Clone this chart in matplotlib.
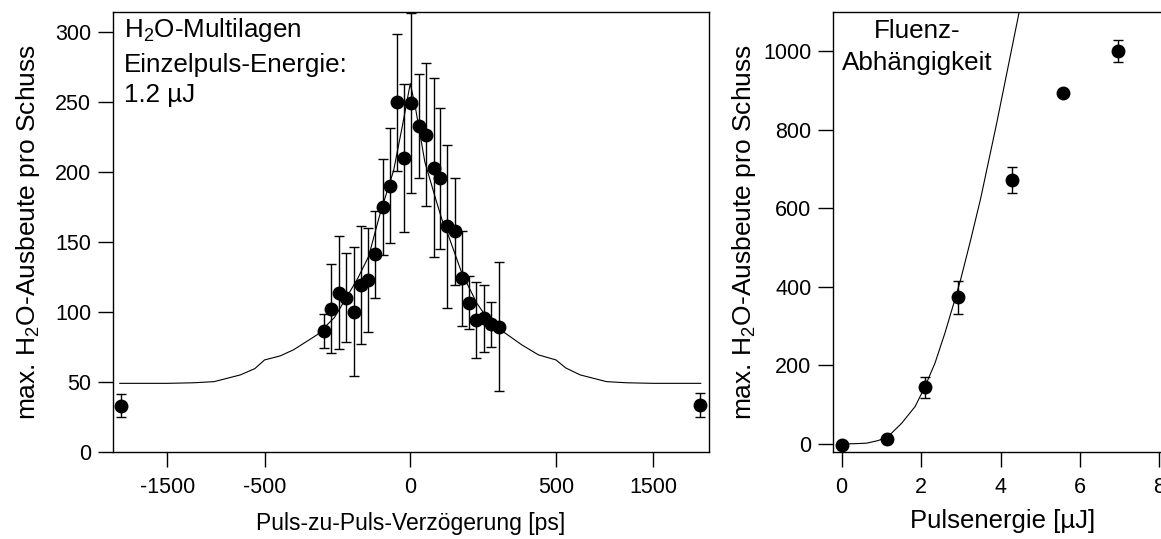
import numpy as np
import matplotlib
matplotlib.use('Agg')
import matplotlib.pyplot as plt

plt.rcParams['font.family'] = ['Liberation Sans', 'DejaVu Sans']
plt.rcParams['mathtext.default'] = 'regular'
plt.rcParams['axes.unicode_minus'] = False

# linkes Bild: Verzoegerungsabhaengigkeit
delay = [-1980, -297, -271, -244, -220, -194, -168, -146, -120, -95, -71, -46, -21, 4,
         31, 54, 80, 103, 126, 154, 177, 202, 225, 254, 278, 305, 1980]
ausbeute = [33.1, 86.4, 102.4, 113.8, 110.2, 100.2, 119.3, 122.9, 141.2, 174.8, 190, 249.5, 209.8, 249,
            232.4, 226.4, 203, 195.2, 161, 157.4, 124, 106.6, 94.3, 95.5, 91.2, 89.5, 33.6]
fehler = [8.3, 12, 32, 40, 32, 46, 42, 37, 31, 34, 41, 49, 53, 64,
          37, 51, 64, 50, 58, 38, 34, 19, 27, 24, 16, 46, 8.3]

fit_t = [-1990, -1500, -1230, -1020, -750, -600, -500, -446, -400, -320, -260, -217, -180, -143,
         -103, -57, -25, 0, 17, 50, 88, 109, 132, 177, 229, 280, 326, 383, 440, 500, 600, 750,
         1020, 1230, 1500, 1990]
fit_v = [49, 49, 49.4, 50.2, 55, 59.5, 65.7, 68.6, 73, 83.6, 96, 111, 124, 139.5,
         170.5, 201, 235, 263, 246.6, 207, 180, 165.7, 153.8, 127.6, 106, 90.7, 84.8, 76.4, 69.3, 65.7, 60, 55,
         50.2, 49.4, 49, 49]

# rechtes Bild: Fluenzabhaengigkeit
energie = [0.0, 1.15, 2.11, 2.92, 4.29, 5.58, 6.96]
counts = [-2.5, 12.7, 144, 373, 672, 893, 1000]
cerr = [4, 4, 26, 43, 33, 0, 28]

fit_e = [0.0, 0.3, 0.63, 0.92, 1.17, 1.51, 1.85, 2.1, 2.35, 2.6, 2.85, 3.0, 3.25, 3.5, 3.9, 4.24, 4.47, 4.6]
fit_c = [0, 0.3, 1.7, 8.4, 18.6, 52.4, 95, 146, 205.6, 282, 367, 420, 520, 625, 815, 985, 1100, 1160]


def fwd(t):
    t = np.asarray(t, float)
    a = np.abs(t)
    return np.where(a <= 500, t, np.sign(t) * (500 + (a - 500) / 3.0))


def inv(u):
    u = np.asarray(u, float)
    a = np.abs(u)
    return np.where(a <= 500, u, np.sign(u) * (500 + (a - 500) * 3.0))


fs_tick = 15.5
fs_txt = 18.7

fig = plt.figure(figsize=(11.61, 5.39), dpi=100)
ax1 = fig.add_axes([113 / 1161, 87 / 539, 596 / 1161, 440 / 539])
ax2 = fig.add_axes([833.3 / 1161, 87.3 / 539, 338 / 1161, 439.7 / 539])

for ax in (ax1, ax2):
    for s in ax.spines.values():
        s.set_linewidth(1.0)
    ax.tick_params(direction='out', length=10.8, width=1.0, labelsize=fs_tick,
                   top=False, right=False)
    ax.tick_params(axis='x', pad=7.5)
    ax.tick_params(axis='y', pad=5)

ax1.set_xscale('function', functions=(fwd, inv))
ax1.plot(fit_t, fit_v, color='black', lw=0.8)
ax1.errorbar(delay, ausbeute, yerr=fehler, fmt='o', color='black', ms=9,
             elinewidth=1.0, capsize=3.8, capthick=1.0)
ax1.set_xlim(-2060, 2075)
ax1.set_ylim(0, 314)
ax1.set_xticks([-1500, -500, 0, 500, 1500])
ax1.set_xticklabels(['-1500', '-500', '0', '500', '1500'])
ax1.set_yticks([0, 50, 100, 150, 200, 250, 300])
ax1.set_xlabel('Puls-zu-Puls-Verzögerung [ps]', fontsize=16.5, labelpad=10)
ax1.set_ylabel('max. H$_2$O-Ausbeute pro Schuss', fontsize=19, labelpad=9)
ax1.text(0.018, 0.944, 'H$_2$O-Multilagen', transform=ax1.transAxes, fontsize=fs_txt, va='baseline')
ax1.text(0.018, 0.864, 'Einzelpuls-Energie:', transform=ax1.transAxes, fontsize=fs_txt, va='baseline')
ax1.text(0.018, 0.796, '1.2 µJ', transform=ax1.transAxes, fontsize=fs_txt, va='baseline')

ax2.plot(fit_e, fit_c, color='black', lw=0.8)
ax2.errorbar(energie, counts, yerr=cerr, fmt='o', color='black', ms=9,
             elinewidth=1.0, capsize=3.8, capthick=1.0)
ax2.set_xlim(-0.21, 8.3)
ax2.set_ylim(-20, 1100)
ax2.set_xticks([0, 2, 4, 6, 8])
ax2.set_yticks([0, 200, 400, 600, 800, 1000])
ax2.spines['right'].set_visible(False)
ax2.set_xlabel('Pulsenergie [µJ]', fontsize=18.5, labelpad=8)
ax2.set_ylabel('max. H$_2$O-Ausbeute pro Schuss', fontsize=19, labelpad=4)
ax2.text(0.2477, 0.940, 'Fluenz-', transform=ax2.transAxes, fontsize=fs_txt, ha='center', va='baseline')
ax2.text(0.2477, 0.868, 'Abhängigkeit', transform=ax2.transAxes, fontsize=fs_txt, ha='center', va='baseline')

fig.savefig('out.png', dpi=100)
